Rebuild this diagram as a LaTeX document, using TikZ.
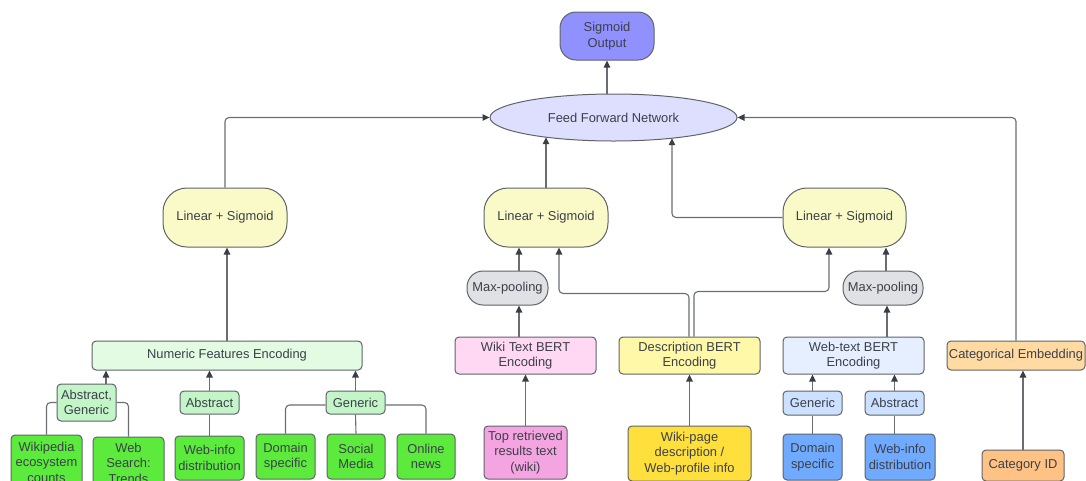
\documentclass[tikz,border=0pt]{standalone}
\usepackage{fontspec}
\setmainfont{Liberation Sans}
\usetikzlibrary{arrows.meta,calc,shapes.geometric}
\definecolor{txt}{HTML}{3C4048}
\definecolor{bord}{HTML}{5F6368}
\definecolor{linec}{HTML}{6A6E73}
\definecolor{tipc}{HTML}{3A3F47}
\definecolor{csig}{HTML}{9090FF}
\definecolor{cffn}{HTML}{DEDEFF}
\definecolor{cls}{HTML}{FAF9C8}
\definecolor{cmp}{HTML}{DFE1E5}
\definecolor{cnfe}{HTML}{E3FAE3}
\definecolor{cgm}{HTML}{C3F5C8}
\definecolor{cgb}{HTML}{5CEA3C}
\definecolor{cwiki}{HTML}{FFD8F3}
\definecolor{ctop}{HTML}{F5A4E2}
\definecolor{cdesc}{HTML}{FFF8A8}
\definecolor{cwp}{HTML}{FFDF3C}
\definecolor{cweb}{HTML}{E6EFFF}
\definecolor{cbm}{HTML}{CCE0FF}
\definecolor{cbb}{HTML}{70AAFF}
\definecolor{ccat}{HTML}{FFDBA3}
\definecolor{ccid}{HTML}{FFC285}
\begin{document}
\begin{tikzpicture}[x=1pt,y=-1pt,
  base/.style={draw=bord,line width=1pt,text=txt,inner sep=0pt,align=center,
    font=\fontsize{12.9}{15.5}\selectfont},
  wh/.style 2 args={minimum width=#1pt,minimum height=#2pt},
  box/.style={base,rounded corners=4pt},
  pillbig/.style={base,rounded corners=24pt},
  pillsmall/.style={base,rounded corners=16pt},
  arr/.style={draw=linec,line width=1.1pt,rounded corners=4pt,
    -{Triangle[length=7pt,width=6.5pt,color=tipc,fill=tipc]}},
  ln/.style={draw=linec,line width=1.1pt,rounded corners=4pt}
]
\useasboundingbox (0,0) rectangle (1086,480);
\clip (0,0) rectangle (1086,480);

% top
\node[pillsmall,fill=csig,wh={94}{48}] (sig) at (607,36) {Sigmoid\\Output};
\node[base,ellipse,fill=cffn,wh={247}{47}] (ffn) at (613.5,117.5) {Feed Forward Network};

% linear + sigmoid
\node[pillbig,fill=cls,wh={124}{59}] (ls1) at (225,217.5) {Linear + Sigmoid};
\node[pillbig,fill=cls,wh={124}{59}] (ls2) at (546,217.5) {Linear + Sigmoid};
\node[pillbig,fill=cls,wh={123}{59}] (ls3) at (844.5,217.5) {Linear + Sigmoid};

% max pooling
\node[pillsmall,fill=cmp,wh={81}{34}] (mp1) at (507.5,288) {Max-pooling};
\node[pillsmall,fill=cmp,wh={80}{34}] (mp2) at (883,288) {Max-pooling};

% encodings
\node[box,fill=cnfe,wh={270}{29}] (nfe) at (227,355.5) {Numeric Features Encoding};
\node[box,fill=cwiki,wh={141}{37}] (wiki) at (525.5,355.5) {Wiki Text BERT\\Encoding};
\node[box,fill=cdesc,wh={141}{37}] (desc) at (689.5,355.5) {Description BERT\\Encoding};
\node[box,fill=cweb,wh={141}{37}] (web) at (853.5,355.5) {Web-text BERT\\Encoding};
\node[box,fill=ccat,wh={138}{29}] (cat) at (1016,355.5) {Categorical Embedding};

% middle labels
\node[box,fill=cgm,wh={59}{37}] (ag) at (86.5,402.5) {Abstract,\\Generic};
\node[box,fill=cgm,wh={59}{23}] (abs1) at (209.5,402.5) {Abstract};
\node[box,fill=cgm,wh={59}{23}] (gen1) at (355.5,402.5) {Generic};
\node[box,fill=cbm,wh={59}{24}] (gen2) at (812.5,403) {Generic};
\node[box,fill=cbm,wh={59}{24}] (abs2) at (894.5,403) {Abstract};

% bottom sources
\node[box,fill=cgb,wh={71}{54}] (wpe) at (46.5,462) {Wikipedia\\ecosystem\\counts};
\node[box,fill=cgb,wh={71}{52}] (wst) at (128.5,463) {Web\\Search:\\Trends};
\node[box,fill=cgb,wh={69}{44}] (wid1) at (209.5,458) {Web-info\\distribution};
\node[box,fill=cgb,wh={59}{45}] (dom1) at (285.5,456.5) {Domain\\specific};
\node[box,fill=cgb,wh={58}{45}] (soc) at (356,456.5) {Social\\Media};
\node[box,fill=cgb,wh={58}{45}] (onl) at (426,456.5) {Online\\news};
\node[box,fill=ctop,wh={83}{53}] (top) at (525.5,452.5) {Top retrieved\\results text\\(wiki)};
\node[box,fill=cwp,wh={123}{55}] (wp) at (689.5,453.5) {Wiki-page\\description /\\Web-profile info};
\node[box,fill=cbb,wh={59}{46}] (dom2) at (812.5,457) {Domain\\specific};
\node[box,fill=cbb,wh={70}{46}] (wid2) at (900,457) {Web-info\\distribution};
\node[box,fill=ccid,wh={82}{31}] (cid) at (1023,465.5) {Category ID};

% connectors: top
\draw[arr] (sig.south |- ffn.north) -- (sig.south);
\draw[arr] (ls1.north) |- (ffn.west);
\draw[arr] (ls2.north) -- ($(ls2.north |- ffn.center)+(0,19.7)$);
\draw[arr] (ls3.west) -| ($(ffn.center)+(58.5,20.7)$);
\draw[arr] (cat.north) |- (ffn.east);

% middle column
\draw[arr] ([xshift=11.5pt]mp1.north) -- ([xshift=11.5pt]mp1.north |- ls2.south);
\draw[arr] ([xshift=-6.5pt]wiki.north) -- ([xshift=-6.5pt]wiki.north |- mp1.south);
\draw[arr] (top.north) -- (top.north |- wiki.south);
\draw[arr] ([xshift=-0.5pt]desc.north) -- ++(0,-43) -| ([xshift=13pt]ls2.south);
\draw[arr] ([xshift=4.5pt]desc.north) -- ++(0,-45) -| ([xshift=-15.5pt]ls3.south);
\draw[arr] (wp.north) -- (wp.north |- desc.south);

% right column
\draw[arr] ([xshift=33.5pt]web.north) -- ([xshift=33.5pt]web.north |- mp2.south);
\draw[arr] ([xshift=3pt]mp2.north) -- ([xshift=3pt]mp2.north |- ls3.south);
\draw[arr] (gen2.north) -- (gen2.north |- web.south);
\draw[arr] (abs2.north) -- (abs2.north |- web.south);
\draw[ln] (dom2.north) -- (gen2.south);
\draw[ln] (abs2.south |- wid2.north) -- (abs2.south);
\draw[arr] (cid.north) -- (cid.north |- cat.south);

% numeric column
\draw[arr] (nfe.north) -- (nfe.north |- ls1.south);
\draw[arr] ([xshift=19.5pt]ag.north) -- ([xshift=19.5pt]ag.north |- nfe.south);
\draw[arr] (abs1.north) -- (abs1.north |- nfe.south);
\draw[arr] (gen1.north) -- (gen1.north |- nfe.south);
\draw[ln] (ag.west) -| (wpe.north);
\draw[ln] (ag.east) -| (wst.north);
\draw[ln] (abs1.south) -- (wid1.north);
\draw[ln] ([yshift=-2.5pt]gen1.west) -| (dom1.north);
\draw[ln] ([yshift=-2.5pt]gen1.east) -| (onl.north);
\draw[ln] (gen1.south) -- (soc.north);
\end{tikzpicture}
\end{document}
